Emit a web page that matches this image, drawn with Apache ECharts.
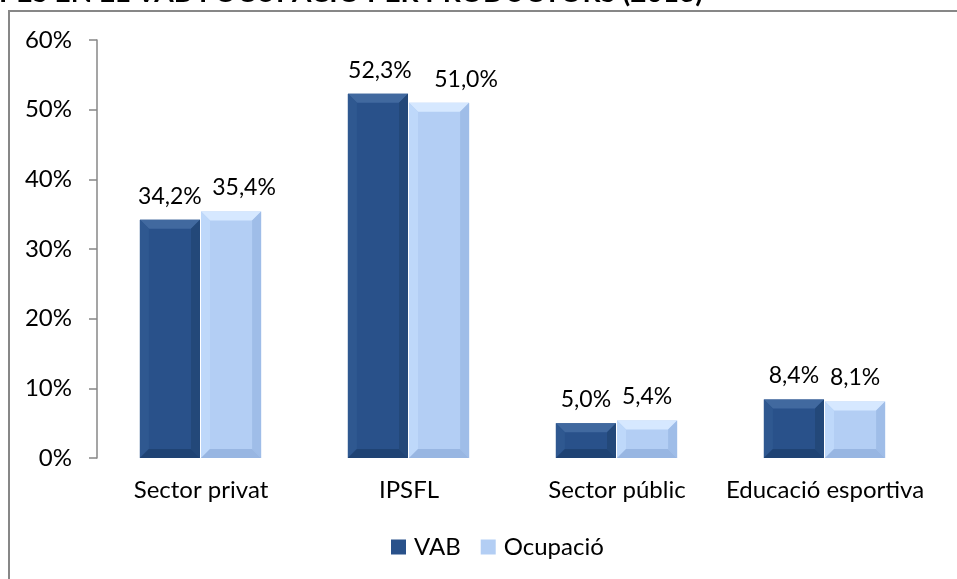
<!DOCTYPE html>
<html>
<head>
<meta charset="utf-8">
<script src="https://cdn.jsdelivr.net/npm/echarts@6/dist/echarts.min.js"></script>
<style>
  html, body { margin: 0; padding: 0; background: #fff; }
  #chart { width: 957px; height: 579px; }
</style>
</head>
<body>
<div id="chart"></div>
<script>
// --- data ---
const categories = ['Sector privat', 'IPSFL', 'Sector públic', 'Educació esportiva'];
const vabValues = [34.2, 52.3, 5.0, 8.4];
const ocupacioValues = [35.4, 51.0, 5.4, 8.1];
const seriesNames = ['VAB', 'Ocupació'];
const titleText = 'PES EN EL VAB I OCUPACIÓ PER PRODUCTORS (2013)';

const FONT = 'Lato, "Open Sans", sans-serif';
const FS = 24;
const fmt = v => v.toFixed(1).replace('.', ',') + '%';

// bevel palettes: face, top, left, right, bottom
const PALETTES = [
  { face: '#29518a', top: '#41699f', left: '#2f5890', right: '#234879', bottom: '#1f4374' },
  { face: '#b3cef4', top: '#d6e8ff', left: '#bed8fa', right: '#9fbde8', bottom: '#98b6e2' }
];
const BEVEL = 9;
// labels were nudged sideways in the original so they don't collide
const LABEL_NUDGE = [[0, 2, 0, 0], [13, 27, 0, 0]];

// custom bar with an Excel-like bevel
function makeRender(seriesIndex) {
  const pal = PALETTES[seriesIndex];
  return function (params, api) {
    const catIdx = api.value(0);
    const val = api.value(1);
    const top = api.coord([catIdx, val]);
    const base = api.coord([catIdx, 0]);
    const band = api.size([1, 0])[0];
    const w = band * 0.289;
    const x0 = seriesIndex === 0 ? top[0] - w - 1 : top[0];
    const x1 = x0 + w;
    const y0 = top[1];
    const y1 = base[1];
    const b = Math.min(BEVEL, (y1 - y0) / 2, w / 2);
    const poly = (pts, fill) => ({ type: 'polygon', shape: { points: pts }, style: { fill: fill } });
    return {
      type: 'group',
      children: [
        { type: 'rect', shape: { x: x0, y: y0, width: w, height: y1 - y0 }, style: { fill: pal.face } },
        poly([[x0, y0], [x1, y0], [x1 - b, y0 + b], [x0 + b, y0 + b]], pal.top),
        poly([[x0, y0], [x0 + b, y0 + b], [x0 + b, y1 - b], [x0, y1]], pal.left),
        poly([[x1, y0], [x1, y1], [x1 - b, y1 - b], [x1 - b, y0 + b]], pal.right),
        poly([[x0, y1], [x0 + b, y1 - b], [x1 - b, y1 - b], [x1, y1]], pal.bottom),
        {
          type: 'text',
          style: {
            text: fmt(val),
            x: (x0 + x1) / 2 + LABEL_NUDGE[seriesIndex][params.dataIndex],
            y: y0 - 12,
            textAlign: 'center',
            textVerticalAlign: 'bottom',
            font: '23px ' + FONT,
            fill: '#000'
          }
        }
      ]
    };
  };
}

const chart = echarts.init(document.getElementById('chart'));

chart.setOption({
  backgroundColor: '#fff',
  animation: false,
  textStyle: { fontFamily: FONT },
  graphic: [
    {
      type: 'rect',
      shape: { x: 9, y: 11, width: 1200, height: 800 },
      style: { fill: 'none', stroke: '#878787', lineWidth: 2 },
      silent: true
    },
    {
      type: 'text',
      left: -1,
      top: -21,
      style: {
        text: titleText,
        font: 'bold 28px ' + FONT,
        fill: '#000'
      },
      silent: true
    }
  ],
  legend: {
    data: seriesNames,
    bottom: 15,
    left: 386,
    icon: 'rect',
    itemWidth: 15,
    itemHeight: 15,
    itemGap: 20,
    textStyle: { color: '#000', fontSize: FS, fontFamily: FONT, padding: [0, 0, 0, 3] }
  },
  grid: { left: 97, right: 28, top: 40, bottom: 121, containLabel: false },
  xAxis: {
    type: 'category',
    data: categories,
    axisLine: { show: false },
    axisTick: { show: false },
    axisLabel: { color: '#000', fontSize: FS, fontFamily: FONT, margin: 20, interval: 0 }
  },
  yAxis: {
    type: 'value',
    min: 0,
    max: 60,
    interval: 10,
    axisLine: { show: true, lineStyle: { color: '#878787', width: 1.5 } },
    axisTick: { show: true, length: 8, lineStyle: { color: '#878787', width: 1.5 } },
    splitLine: { show: false },
    axisLabel: { color: '#000', fontSize: FS, fontFamily: FONT, margin: 25, formatter: v => v + '%' }
  },
  series: [
    {
      name: seriesNames[0],
      type: 'custom',
      renderItem: makeRender(0),
      itemStyle: { color: PALETTES[0].face },
      encode: { x: 0, y: 1 },
      data: vabValues.map((v, i) => [i, v])
    },
    {
      name: seriesNames[1],
      type: 'custom',
      renderItem: makeRender(1),
      itemStyle: { color: PALETTES[1].face },
      encode: { x: 0, y: 1 },
      data: ocupacioValues.map((v, i) => [i, v])
    }
  ]
});
</script>
</body>
</html>
